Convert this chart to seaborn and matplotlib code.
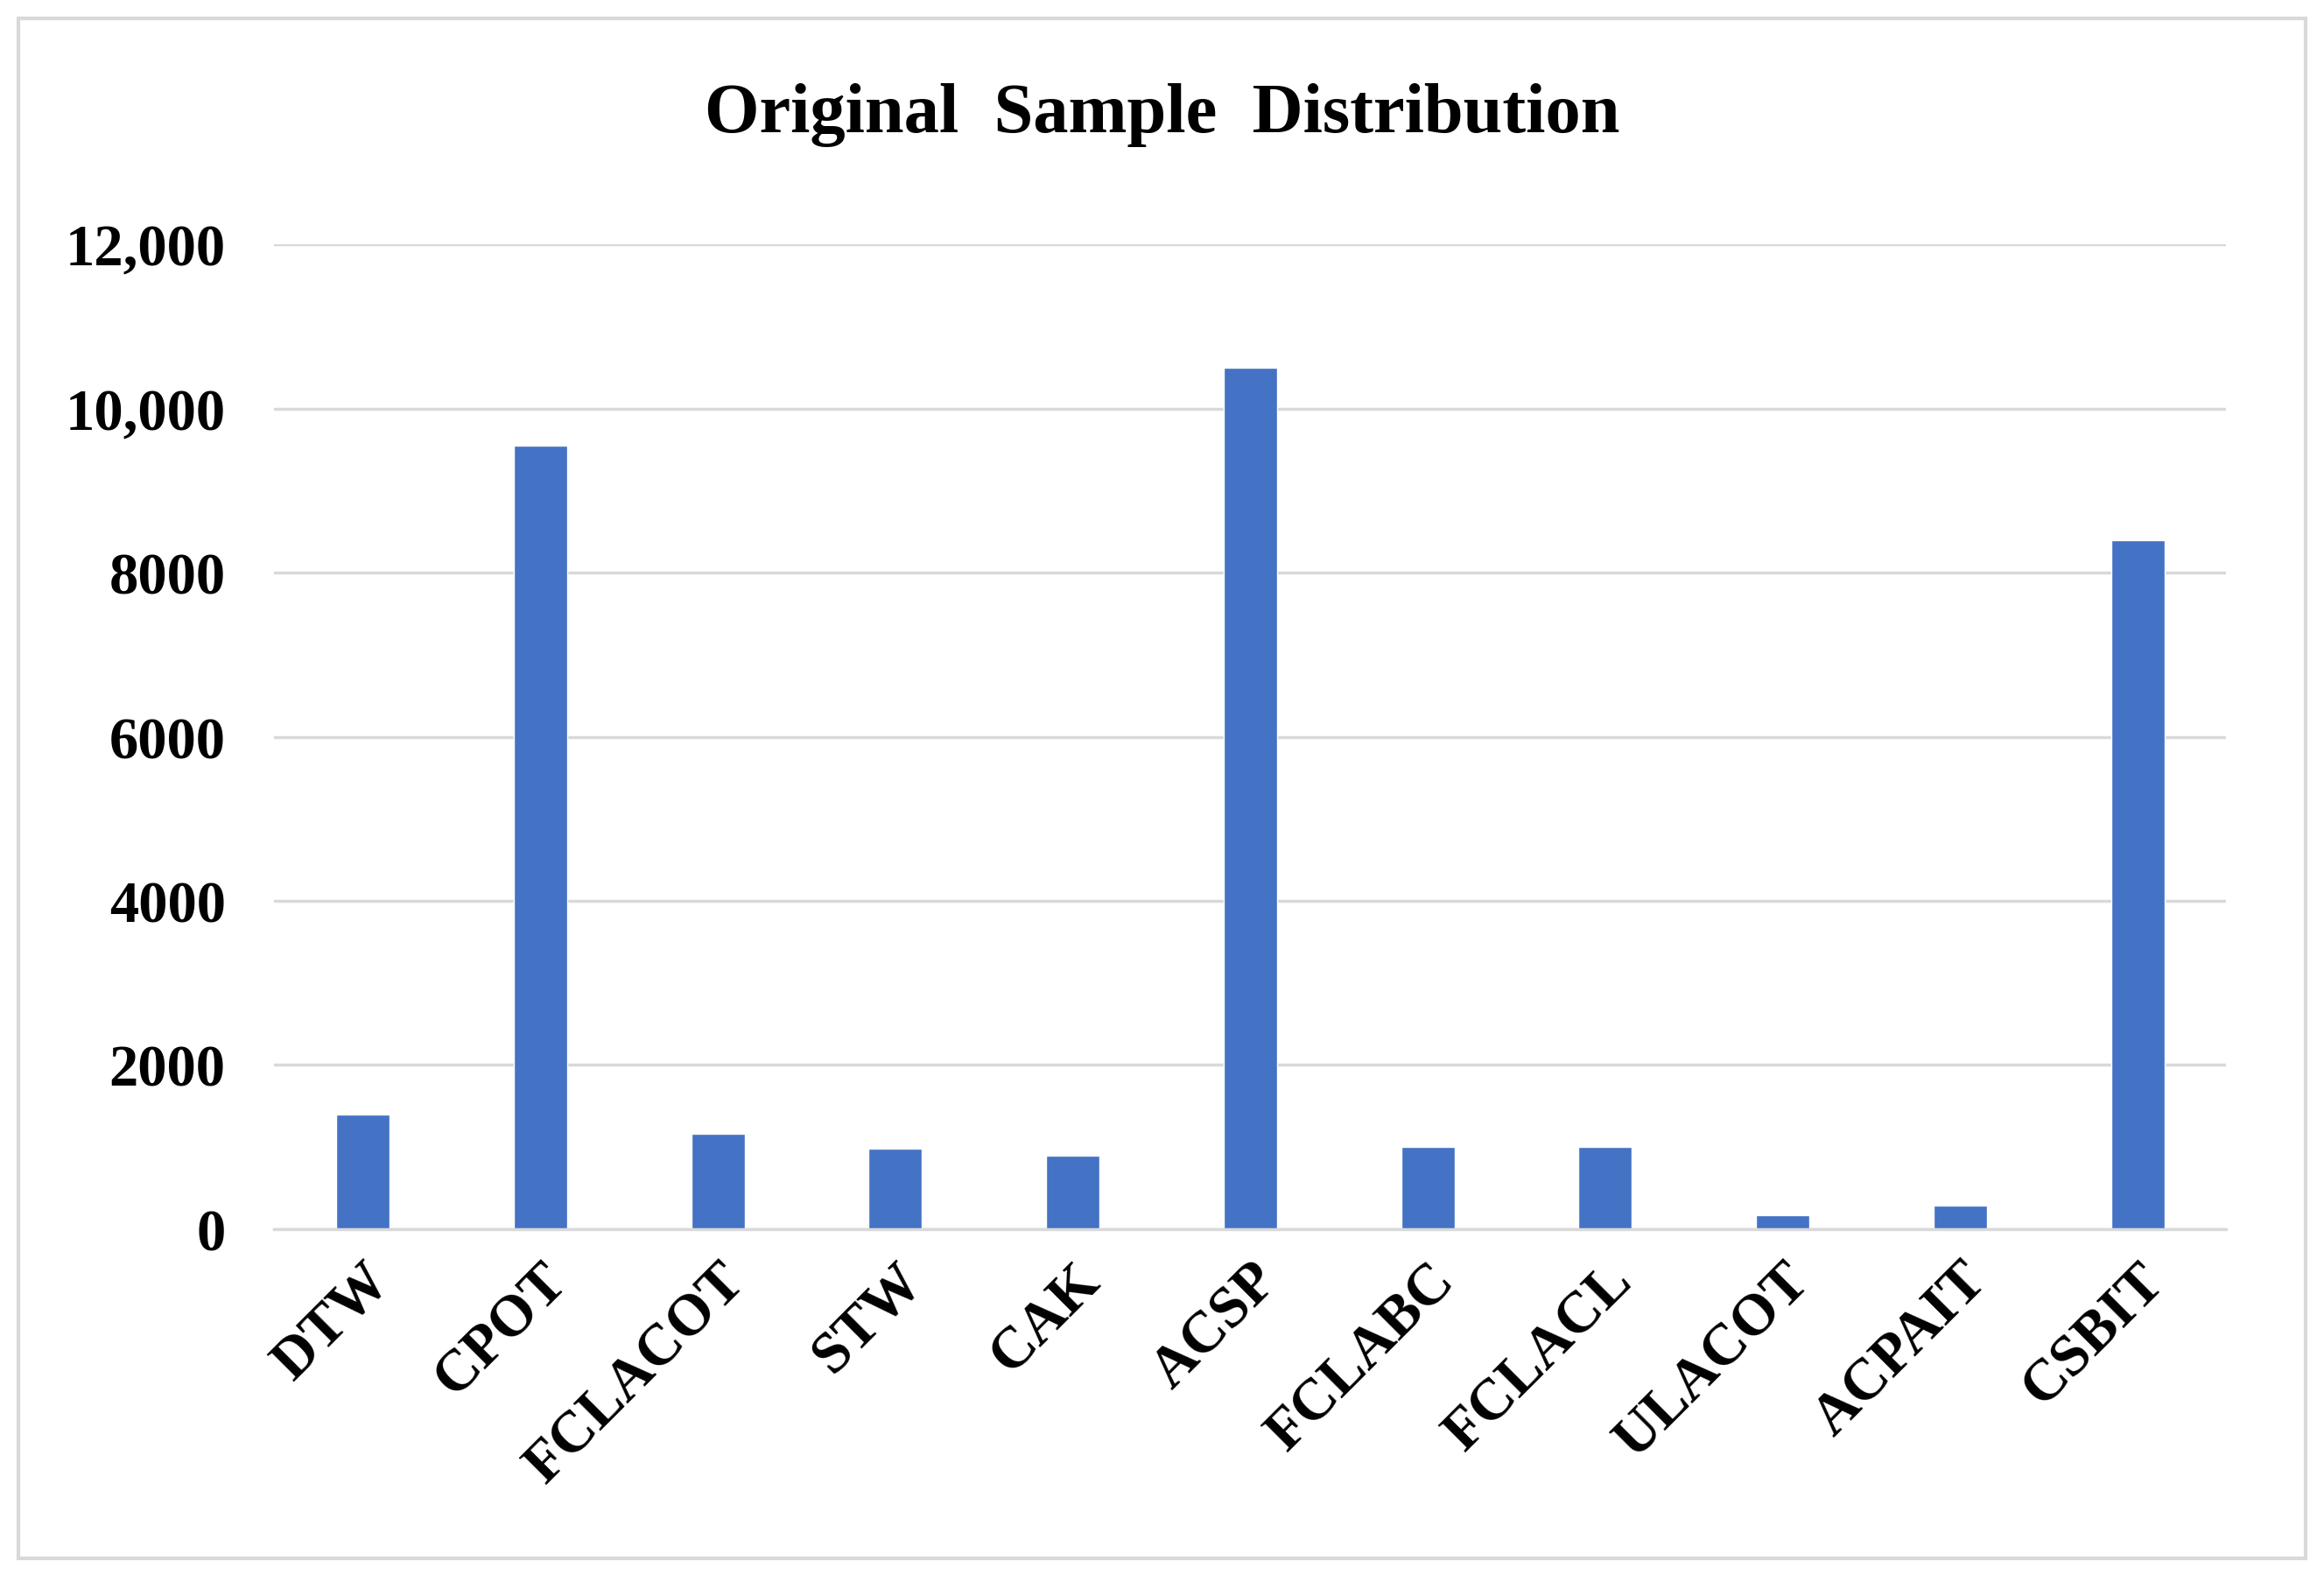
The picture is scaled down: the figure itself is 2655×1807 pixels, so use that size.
import matplotlib
matplotlib.use("Agg")
import matplotlib.pyplot as plt
import seaborn as sns
import pandas as pd
from matplotlib.patches import Rectangle

categories = ["DTW", "CPOT", "FCLACOT", "STW", "CAK", "ACSP", "FCLABC", "FCLACL", "ULACOT", "ACPAIT", "CSBIT"]
values = [1400, 9550, 1160, 980, 890, 10500, 1000, 1000, 170, 290, 8400]
yticks = [0, 2000, 4000, 6000, 8000, 10000, 12000]
ytick_labels = ["0", "2000", "4000", "6000", "8000", "10,000", "12,000"]

sns.set_theme(style="white")
plt.rcParams['font.family'] = ['Liberation Serif', 'DejaVu Serif']

df = pd.DataFrame({"cat": categories, "val": values})
fig = plt.figure(figsize=(26.55, 18.08), dpi=100)
ax = fig.add_axes([0.118, 0.223, 0.84, 0.622])
sns.barplot(data=df, x="cat", y="val", color="#4472C4", width=0.3, saturation=1, ax=ax)
ax.set_ylim(0, 12000)
ax.set_xlim(-0.5, len(categories) - 0.5)
ax.set_yticks(yticks)
ax.set_yticklabels(ytick_labels, fontsize=48, fontweight="bold", color="black")
ax.set_xticks(range(len(categories)))
ax.set_xticklabels(categories, rotation=45, ha="right", rotation_mode="anchor", fontsize=48, fontweight="bold", color="black")
ax.tick_params(axis="x", pad=20, length=0)
ax.tick_params(axis="y", pad=40, length=0)
ax.yaxis.grid(True, color="#D9D9D9", linewidth=2.5)
ax.set_axisbelow(True)
for s in ["top", "right", "left"]:
    ax.spines[s].set_visible(False)
ax.spines["bottom"].set_color("#D9D9D9")
ax.spines["bottom"].set_linewidth(2.5)
ax.set_xlabel("")
ax.set_ylabel("")
fig.text(0.5, 0.927, "Original  Sample  Distribution", ha="center", va="center", fontsize=58, fontweight="bold", color="black")
fig.patches.append(Rectangle((0.008, 0.015), 0.984, 0.973, transform=fig.transFigure, fill=False, edgecolor="#D9D9D9", linewidth=3))
fig.savefig("out.png", dpi=100)
